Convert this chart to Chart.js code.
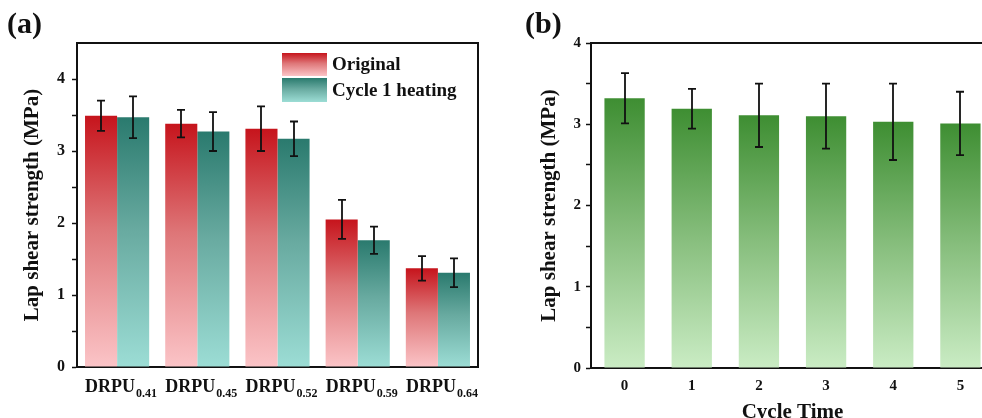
<!DOCTYPE html>
<html><head><meta charset="utf-8">
<script src="https://cdn.jsdelivr.net/npm/chart.js@4.4.1/dist/chart.umd.min.js"></script>
<style>
html,body{margin:0;padding:0;background:#fff;}
#wrap{position:relative;width:982px;height:418px;overflow:hidden;background:#fff;}
#ca{position:absolute;left:0;top:0;}
#cb{position:absolute;left:490px;top:0;}
.plabel{position:absolute;font:bold 30px "Liberation Serif","Times New Roman",serif;line-height:1;color:#111;}
</style></head><body>
<div id="wrap">
<canvas id="ca" width="490" height="418" style="width:490px;height:418px"></canvas>
<canvas id="cb" width="520" height="430" style="width:520px;height:430px"></canvas>
<div class="plabel" style="left:7px;top:8px">(a)</div>
<div class="plabel" style="left:525px;top:8px">(b)</div>
</div>
<script>
// ---- data ----
const categoriesA = ['DRPU_0.41', 'DRPU_0.45', 'DRPU_0.52', 'DRPU_0.59', 'DRPU_0.64'];
const originalVals = [3.49, 3.38, 3.31, 2.05, 1.37];
const originalErr  = [0.21, 0.19, 0.31, 0.27, 0.17];
const cycle1Vals   = [3.47, 3.27, 3.17, 1.76, 1.31];
const cycle1Err    = [0.29, 0.27, 0.24, 0.19, 0.20];

const cycleTimes    = ['0', '1', '2', '3', '4', '5'];
const cycleTimeVals = [3.32, 3.19, 3.11, 3.10, 3.03, 3.01];
const cycleTimeErr  = [0.31, 0.245, 0.39, 0.40, 0.47, 0.39];

// ---- styles ----
const SERIF = '"Liberation Serif","Times New Roman",serif';
const INK = '#111';
const redStops   = [[0, 'rgb(198,20,28)'], [0.45, 'rgb(222,118,120)'], [1, 'rgb(251,196,199)']];
const tealStops  = [[0, 'rgb(42,122,110)'], [0.45, 'rgb(104,170,160)'], [1, 'rgb(156,221,213)']];
const greenStops = [[0, 'rgb(62,142,50)'], [0.5, 'rgb(135,190,125)'], [1, 'rgb(202,236,196)']];

function gradFill(stops) {
  return function (ctx) {
    const chart = ctx.chart;
    if (ctx.type !== 'data' || !chart.chartArea || !ctx.parsed) return stops[0][1];
    const ys = chart.scales.y;
    const top = ys.getPixelForValue(ctx.parsed.y);
    const bot = ys.getPixelForValue(0);
    const g = chart.ctx.createLinearGradient(0, top, 0, bot);
    stops.forEach(s => g.addColorStop(s[0], s[1]));
    return g;
  };
}

const errorBars = {
  id: 'errorBars',
  afterDatasetsDraw(chart) {
    const c = chart.ctx, ys = chart.scales.y;
    chart.data.datasets.forEach((ds, di) => {
      if (!ds.errors) return;
      const meta = chart.getDatasetMeta(di);
      meta.data.forEach((bar, i) => {
        const v = ds.data[i], e = ds.errors[i];
        const x = Math.round(bar.x);
        const y1 = ys.getPixelForValue(v + e), y2 = ys.getPixelForValue(v - e);
        c.save();
        c.strokeStyle = INK; c.lineWidth = 1.8;
        c.beginPath();
        c.moveTo(x, y1); c.lineTo(x, y2);
        c.moveTo(x - 4, y1); c.lineTo(x + 4, y1);
        c.moveTo(x - 4, y2); c.lineTo(x + 4, y2);
        c.stroke();
        c.restore();
      });
    });
  }
};

const frame = {
  id: 'frame',
  afterDraw(chart) {
    const a = chart.chartArea, c = chart.ctx;
    c.save();
    c.strokeStyle = INK; c.lineWidth = 2;
    c.beginPath();
    c.moveTo(a.left - 1, a.top); c.lineTo(a.right, a.top); c.lineTo(a.right, a.bottom + 1);
    c.stroke();
    c.restore();
  }
};

const legendA = {
  id: 'legendA',
  afterDraw(chart) {
    const a = chart.chartArea, c = chart.ctx;
    const x0 = a.right - 196;
    const rows = [[a.top + 10, 23], [a.top + 35, 24]];
    chart.data.datasets.forEach((ds, i) => {
      const [y, h] = rows[i];
      const g = c.createLinearGradient(0, y, 0, y + h);
      ds.gradStops.forEach(s => g.addColorStop(s[0], s[1]));
      c.save();
      c.fillStyle = g; c.fillRect(x0, y, 45, h);
      c.fillStyle = INK; c.font = 'bold 19px ' + SERIF;
      c.textBaseline = 'middle'; c.textAlign = 'left';
      c.fillText(ds.label, x0 + 50, y + h / 2 + 1);
      c.restore();
    });
  }
};

const xLabelsA = {
  id: 'xLabelsA',
  afterDraw(chart) {
    const xs = chart.scales.x, c = chart.ctx, base = chart.chartArea.bottom;
    chart.data.labels.forEach((lab, i) => {
      const parts = lab.split('_');
      const main = parts[0], sub = parts[1];
      c.save();
      c.font = 'bold 18px ' + SERIF; const w1 = c.measureText(main).width;
      c.font = 'bold 12px ' + SERIF; const w2 = c.measureText(sub).width;
      const x = xs.getPixelForTick(i) + 4 - (w1 + w2 + 1) / 2;
      c.fillStyle = INK; c.textBaseline = 'alphabetic'; c.textAlign = 'left';
      c.font = 'bold 18px ' + SERIF; c.fillText(main, x, base + 25);
      c.font = 'bold 12px ' + SERIF; c.fillText(sub, x + w1 + 1, base + 30);
      c.restore();
    });
  }
};

const tickFont = size => ({ family: SERIF, size: size, weight: 'bold' });
const intLabel = v => (Number.isInteger(v) ? v : '');

new Chart(document.getElementById('ca'), {
  type: 'bar',
  data: {
    labels: categoriesA,
    datasets: [
      { label: 'Original', data: originalVals, errors: originalErr, gradStops: redStops,
        backgroundColor: gradFill(redStops), borderWidth: 0 },
      { label: 'Cycle 1 heating', data: cycle1Vals, errors: cycle1Err, gradStops: tealStops,
        backgroundColor: gradFill(tealStops), borderWidth: 0 }
    ]
  },
  options: {
    responsive: false, animation: false,
    layout: { padding: { top: 43, right: 12, left: 0, bottom: 0 } },
    plugins: { legend: { display: false }, tooltip: { enabled: false } },
    datasets: { bar: { categoryPercentage: 0.8, barPercentage: 1 } },
    scales: {
      x: {
        grid: { display: false, drawTicks: false },
        border: { display: true, color: INK, width: 2 },
        ticks: { display: false },
        afterFit(s) { s.height = 51; }
      },
      y: {
        min: 0, max: 4.5,
        ticks: { stepSize: 0.5, callback: intLabel, font: tickFont(16), color: INK, padding: 7 },
        grid: { drawOnChartArea: false, drawTicks: true, tickLength: 5, tickWidth: 1.5,
                tickColor: ctx => (ctx.tick && ctx.tick.value > 4.4 ? 'rgba(0,0,0,0)' : INK) },
        border: { color: INK, width: 2 },
        title: { display: true, text: 'Lap shear strength (MPa)', font: tickFont(21), color: INK,
                 padding: { top: 20, bottom: 0 } },
        afterFit(s) { s.width = 77; }
      }
    }
  },
  plugins: [errorBars, frame, legendA, xLabelsA]
});

new Chart(document.getElementById('cb'), {
  type: 'bar',
  data: {
    labels: cycleTimes,
    datasets: [
      { label: 'Lap shear strength', data: cycleTimeVals, errors: cycleTimeErr,
        backgroundColor: gradFill(greenStops), borderWidth: 0 }
    ]
  },
  options: {
    responsive: false, animation: false,
    layout: { padding: { top: 43, right: 16, left: 0, bottom: 0 } },
    plugins: { legend: { display: false }, tooltip: { enabled: false } },
    datasets: { bar: { categoryPercentage: 1, barPercentage: 0.6 } },
    scales: {
      x: {
        grid: { display: false, drawTicks: false },
        border: { display: true, color: INK, width: 2 },
        ticks: { font: tickFont(15), color: INK, padding: 9 },
        title: { display: true, text: 'Cycle Time', font: tickFont(21), color: INK,
                 padding: { top: 0, bottom: 5 } },
        afterFit(s) { s.height = 62; }
      },
      y: {
        min: 0, max: 4,
        ticks: { stepSize: 0.5, callback: intLabel, font: tickFont(15), color: INK, padding: 5 },
        grid: { drawOnChartArea: false, drawTicks: true, tickLength: 5, tickWidth: 1.5, tickColor: INK },
        border: { color: INK, width: 2 },
        title: { display: true, text: 'Lap shear strength (MPa)', font: tickFont(21), color: INK,
                 padding: { top: 47, bottom: 0 } },
        afterFit(s) { s.width = 101; }
      }
    }
  },
  plugins: [errorBars, frame]
});
</script>
</body></html>
